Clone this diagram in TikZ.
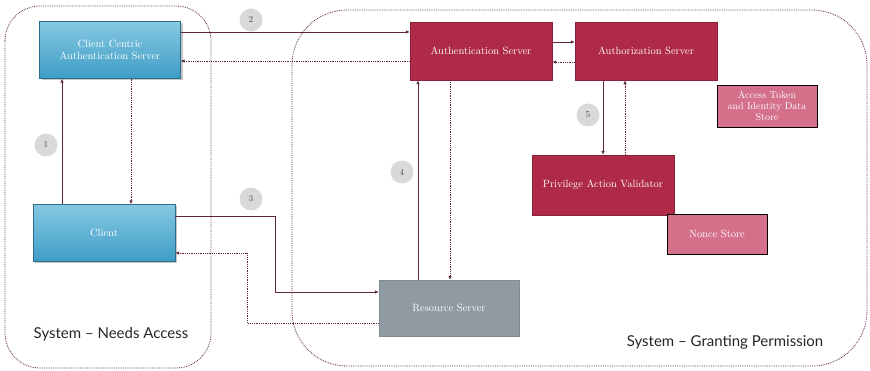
\documentclass[tikz,border=0pt]{standalone}
\usepackage{fontspec}
\newfontfamily\labelfont[Ligatures=TeX]{Lato}
\usetikzlibrary{arrows.meta,shadows,calc}

\definecolor{linecol}{HTML}{5E2440}
\definecolor{redbox}{HTML}{AF2A47}
\definecolor{pinkbox}{HTML}{D4708A}
\definecolor{greybox}{HTML}{8F9AA2}
\definecolor{bluetop}{HTML}{86C8E2}
\definecolor{bluebot}{HTML}{3E9DC6}

\begin{document}
\begin{tikzpicture}[
  x=1pt,y=-1pt,
  every node/.style={font=\fontsize{10.5}{12}\selectfont,text=white,align=center,inner sep=2pt},
  bluebox/.style={draw=bluebot!70!black,top color=bluetop,bottom color=bluebot,
    minimum width=141,minimum height=57,drop shadow={opacity=0.45,shadow xshift=2pt,shadow yshift=-2pt}},
  serverbox/.style={draw=redbox!80!black,fill=redbox,minimum width=142,minimum height=58},
  storebox/.style={draw=black,thick,fill=pinkbox,minimum width=100,minimum height=42},
  stepnum/.style={circle,fill=gray!30,text=black!70,font=\small,minimum size=23,inner sep=0pt},
  region/.style={draw=linecol,densely dotted,thick},
  flow/.style={draw=linecol,semithick,-{Latex[length=4pt,width=3.5pt]}},
  reply/.style={draw=linecol,densely dotted,thick,-{Latex[length=4pt,width=3.5pt]}},
  syslabel/.style={text=black!85,font=\labelfont\fontsize{15}{18}\selectfont}
]
  \useasboundingbox (0,0) rectangle (870,371);

  % system regions
  \draw[region,rounded corners=35] (5,6) rectangle (211,368);
  \draw[region,rounded corners=55] (292,10) rectangle (867,366);
  \node[syslabel] (needs) at (111,334) {System -- Needs Access};
  \node[syslabel] (grant) at (725,342) {System -- Granting Permission};

  % boxes
  \node[bluebox] (ccas) at (110,50) {Client Centric\\Authentication Server};
  \node[bluebox,minimum width=142] (client) at (104,233) {Client};
  \node[serverbox] (auth) at (481,51) {Authentication Server};
  \node[serverbox] (authz) at (646,51) {Authorization Server};
  \node[storebox,font=\fontsize{10}{11}\selectfont] (token) at (767,106) {Access Token\\and Identity Data\\Store};
  \node[serverbox,minimum height=60] (pav) at (603,185) {Privilege Action Validator};
  \node[storebox,minimum height=40] (nonce) at (717,234) {Nonce Store};
  \node[draw=greybox!90!black,fill=greybox,minimum width=140,minimum height=56] (res) at (449,308) {Resource Server};

  % connectors
  \draw[flow] ([xshift=-42]client.north) -- ([xshift=-42]client.north |- ccas.south);
  \draw[reply] ([xshift=21]ccas.south) -- ([xshift=21]ccas.south |- client.north);
  \draw[flow] ([yshift=18]ccas.east) -- ([yshift=18]ccas.east -| auth.west);
  \draw[reply] ([yshift=-11]ccas.east -| auth.west) -- ([yshift=-11]ccas.east);
  \draw[flow] ([yshift=17]client.east) -- ++(100,0) |- ([yshift=16]res.west);
  \draw[reply] ([yshift=-15]res.west) -- ++(-131,0) |- ([yshift=-20]client.east);
  \draw[flow] ([xshift=-31]res.north) -- ([xshift=-31]res.north |- auth.south);
  \draw[reply] ([xshift=1]res.north |- auth.south) -- ([xshift=1]res.north);
  \draw[flow] ([yshift=9]auth.east) -- ([yshift=9]auth.east -| authz.west);
  \draw[reply] ([yshift=-11]auth.east -| authz.west) -- ([yshift=-11]auth.east);
  \draw[flow] (pav.north |- authz.south) -- (pav.north);
  \draw[reply] ([xshift=22]pav.north) -- ([xshift=22]pav.north |- authz.south);

  % step numbers
  \node[stepnum] (s1) at (46,145) {1};
  \node[stepnum] (s2) at (251,20) {2};
  \node[stepnum] (s3) at (251,199) {3};
  \node[stepnum] (s4) at (402,172) {4};
  \node[stepnum] (s5) at (588,115) {5};
\end{tikzpicture}
\end{document}
